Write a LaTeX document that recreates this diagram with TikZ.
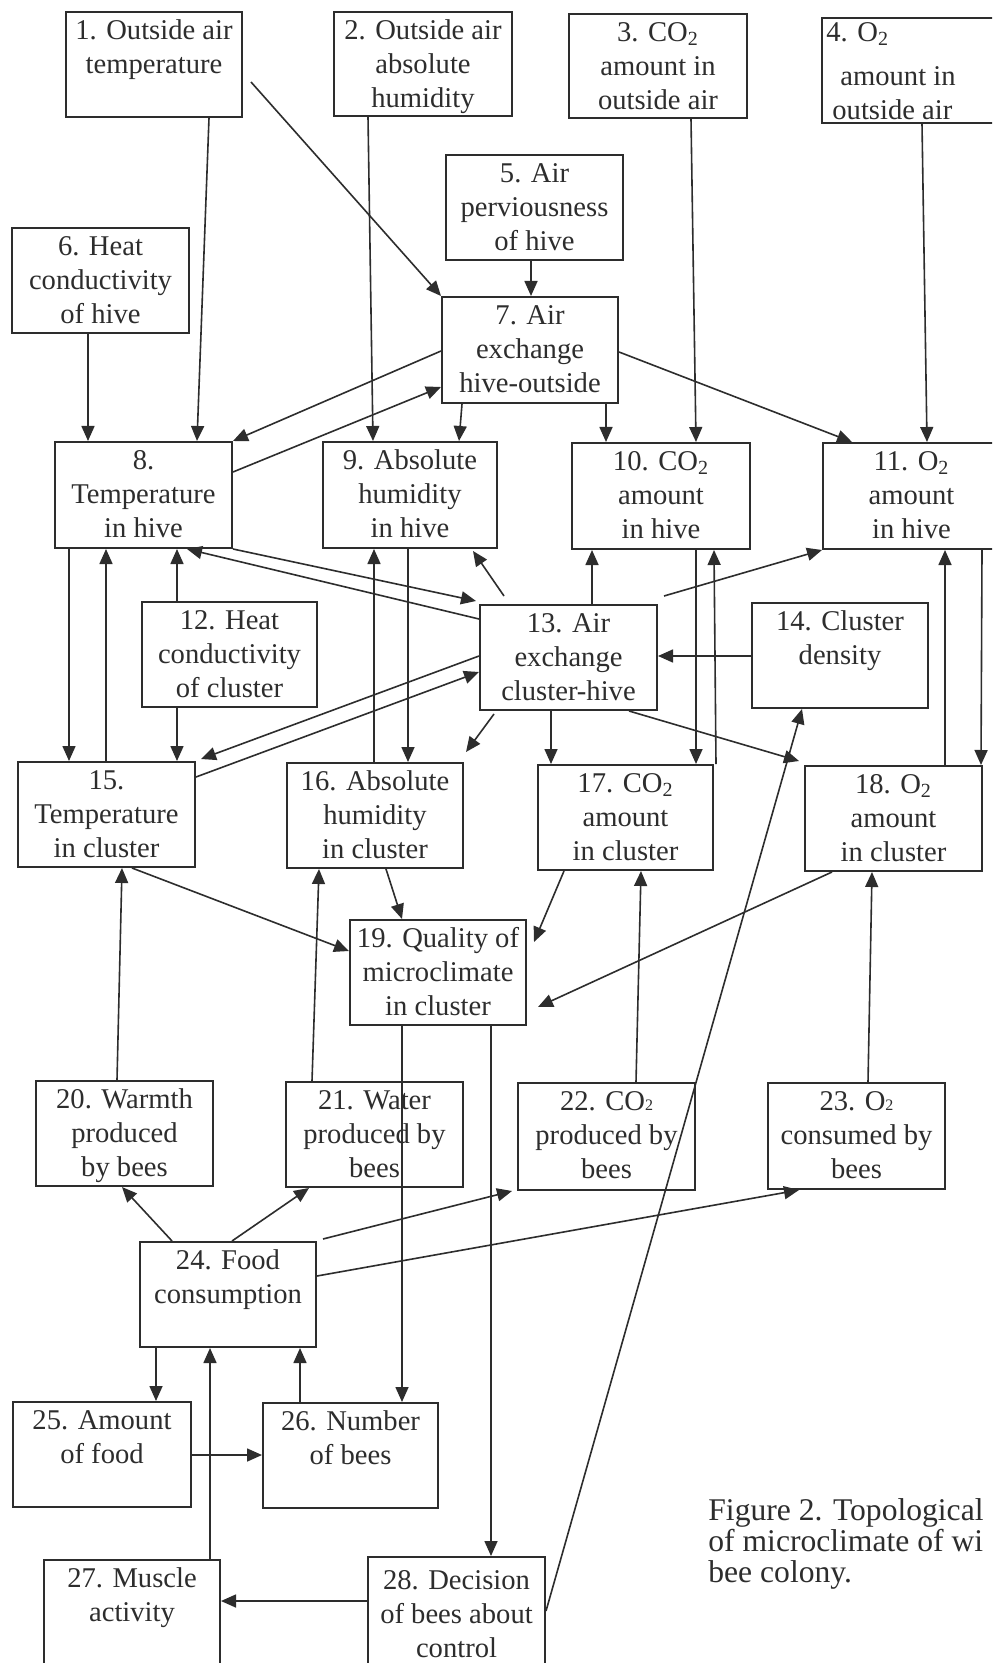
\documentclass[tikz,border=0pt]{standalone}
\usepackage{fontspec}
\setmainfont{Liberation Serif}
\usetikzlibrary{calc,arrows.meta}
\definecolor{ink}{RGB}{45,45,45}
% box: name, x1, y1, x2, y2, text offset, text
\newcommand\bbox[7]{%
  \node[box, minimum width={0.5pt*(#4-#2)}, minimum height={0.5pt*(#5-#3)}] (#1) at ({(#2+#4)/2},{(#3+#5)/2}) {};
  \node[lbl] (#1t) at ({(#2+#4)/2},{#3+#6}) {\strut #7};
}
\begin{document}
\begin{tikzpicture}[x=0.5pt,y=-0.5pt,
  box/.style={draw=ink, line width=1pt, inner sep=0pt, rectangle},
  lbl/.style={text=ink, inner sep=0pt, align=center, anchor=north, font=\fontsize{14.3}{17}\selectfont},
  arr/.style={draw=ink, line width=0.8pt, -{Triangle[length=7.5pt,width=6.5pt]}},
  captext/.style={text=ink, inner sep=0pt, anchor=base west, font=\fontsize{15.8}{16}\selectfont}]
\fill[white] (0,0) rectangle (992,1663);
\useasboundingbox (0,0) rectangle (992,1663);
\clip (0,0) rectangle (992,1663);

% boxes
\bbox{b1}{66}{12}{242}{117}{3}{1. Outside air\\temperature}
\bbox{b2}{334}{12}{512}{116}{3}{2. Outside air\\absolute\\humidity}
\bbox{b3}{569}{14}{747}{118}{3}{3. CO\textsubscript{2}\\amount in\\outside air}
\node[box, minimum width=89pt, minimum height=52.5pt] (b4) at (911,70.5) {};
\node[lbl, align=left, anchor=north west] (b4t) at (826,17) {\strut 4. O\textsubscript{2}\\[5pt]\hspace*{7pt}amount in\\\hspace*{3pt}outside air};
\bbox{b5}{446}{155}{623}{260}{3}{5. Air\\perviousness\\of hive}
\bbox{b6}{12}{228}{189}{333}{3}{6. Heat\\conductivity\\of hive}
\bbox{b7}{442}{297}{618}{403}{3}{7. Air\\exchange\\hive-outside}
\bbox{b8}{55}{442}{232}{548}{3}{8.\\Temperature\\in hive}
\bbox{b9}{323}{442}{497}{548}{3}{9. Absolute\\humidity\\in hive}
\bbox{b10}{572}{443}{750}{549}{3}{10. CO\textsubscript{2}\\amount\\in hive}
\bbox{b11}{823}{443}{1000}{549}{3}{11. O\textsubscript{2}\\amount\\in hive}
\bbox{b12}{142}{602}{317}{707}{3}{12. Heat\\conductivity\\of cluster}
\bbox{b13}{480}{605}{657}{710}{3}{13. Air\\exchange\\cluster-hive}
\bbox{b14}{752}{603}{928}{708}{3}{14. Cluster\\density}
\bbox{b15}{18}{762}{195}{867}{3}{15.\\Temperature\\in cluster}
\bbox{b16}{287}{763}{463}{868}{3}{16. Absolute\\humidity\\in cluster}
\bbox{b17}{538}{765}{713}{870}{3}{17. CO\textsubscript{2}\\amount\\in cluster}
\bbox{b18}{805}{766}{982}{871}{3}{18. O\textsubscript{2}\\amount\\in cluster}
\bbox{b19}{350}{920}{526}{1025}{3}{19. Quality of\\microclimate\\in cluster}
\bbox{b20}{36}{1081}{213}{1186}{3}{20. Warmth\\produced\\by bees}
\bbox{b21}{286}{1082}{463}{1187}{3}{21. Water\\produced by\\bees}
\bbox{b22}{518}{1083}{695}{1190}{3}{22. CO{\footnotesize 2}\\produced by\\bees}
\bbox{b23}{768}{1083}{945}{1189}{3}{23. O{\footnotesize 2}\\consumed by\\bees}
\bbox{b24}{140}{1242}{316}{1347}{3}{24. Food\\consumption}
\bbox{b25}{13}{1402}{191}{1507}{3}{25. Amount\\of food}
\bbox{b26}{263}{1403}{438}{1508}{3}{26. Number\\of bees}
\bbox{b27}{44}{1560}{220}{1665}{3}{27. Muscle\\activity}
\bbox{b28}{368}{1557}{545}{1668}{8}{28. Decision\\of bees about\\control}

% caption
\node[captext] (cap1) at (708,1520) {Figure 2. Topological};
\node[captext] (cap2) at (708,1551) {of microclimate of wi};
\node[captext] (cap3) at (708,1582) {bee colony.};

% outside factors -> hive
\draw[arr] ($(b1.south west)+(144,0)$) -- ($(b8.north west)+(143,0)$);
\draw[arr] ($(b1.north east)+(8,71)$) -- (b7.north west);
\draw[arr] ($(b2.south west)+(35,0)$) -- ($(b9.north west)+(51,0)$);
\draw[arr] ($(b5.south west)+(86,0)$) -- ($(b7.north west)+(90,0)$);
\draw[arr] ($(b3.south west)+(123,0)$) -- ($(b10.north west)+(125,0)$);
\draw[arr] ($(b4.south west)+(101,0)$) -- ($(b11.north west)+(105,0)$);
\draw[arr] ($(b6.south west)+(77,0)$) -- ($(b8.north west)+(34,0)$);
\draw[arr] ($(b7.north west)+(0,55)$) -- (b8.north east);
\draw[arr] ($(b8.north east)+(0,31)$) -- ($(b7.north west)+(0,91)$);
\draw[arr] ($(b7.south west)+(21,0)$) -- ($(b9.north west)+(137,0)$);
\draw[arr] ($(b7.south west)+(165,0)$) -- ($(b10.north west)+(35,0)$);
\draw[arr] ($(b7.north east)+(0,56)$) -- ($(b11.north west)+(30,0)$);

% hive <-> cluster
\draw[arr] ($(b8.south west)+(15,0)$) -- ($(b15.north west)+(52,0)$);
\draw[arr] ($(b15.north west)+(89,0)$) -- ($(b8.south west)+(52,0)$);
\draw[arr] ($(b12.north west)+(36,0)$) -- ($(b8.south west)+(123,0)$);
\draw[arr] ($(b12.south west)+(36,0)$) -- ($(b15.north west)+(160,0)$);
\draw[arr] ($(b13.north west)+(0,15)$) -- ($(b8.south west)+(133,0)$);
\draw[arr] (b8.south east) -- ($(b13.north west)+(-3,-3)$);
\draw[arr] ($(b13.north west)+(0,52)$) -- ($(b15.north east)+(5,-2)$);
\draw[arr] ($(b15.north east)+(0,16)$) -- ($(b13.north west)+(0,68)$);
\draw[arr] ($(b16.north west)+(88,0)$) -- ($(b9.south west)+(52,0)$);
\draw[arr] ($(b9.south west)+(86,0)$) -- ($(b16.north west)+(122,0)$);
\draw[arr] ($(b13.north west)+(25,-8)$) -- ($(b9.south east)+(-25,2)$);
\draw[arr] ($(b13.south west)+(15,3)$) -- ($(b16.north east)+(2,-10)$);
\draw[arr] ($(b13.north west)+(113,0)$) -- ($(b10.south west)+(21,0)$);
\draw[arr] ($(b10.south west)+(125,0)$) -- ($(b17.north west)+(159,0)$);
\draw[arr] ($(b17.north east)+(2,0)$) -- ($(b10.south west)+(143,0)$);
\draw[arr] ($(b13.north east)+(6,-8)$) -- (b11.south west);
\draw[arr] ($(b14.north west)+(0,54)$) -- ($(b13.north east)+(0,52)$);
\draw[arr] ($(b13.south west)+(72,0)$) -- ($(b17.north west)+(14,0)$);
\draw[arr] ($(b13.south west)+(150,0)$) -- ($(b18.north west)+(-5,-4)$);
\draw[arr] ($(b11.south west)+(160,0)$) -- ($(b18.north west)+(177,0)$);
\draw[arr] ($(b18.north west)+(141,0)$) -- ($(b11.south west)+(123,0)$);

% bees -> cluster, cluster -> quality
\draw[arr] ($(b20.north west)+(82,0)$) -- ($(b15.south west)+(105,0)$);
\draw[arr] ($(b21.north west)+(27,0)$) -- ($(b16.south west)+(33,0)$);
\draw[arr] ($(b15.south west)+(115,0)$) -- ($(b19.north west)+(0,32)$);
\draw[arr] ($(b16.south west)+(100,0)$) -- ($(b19.north west)+(53,0)$);
\draw[arr] ($(b17.south west)+(27,0)$) -- ($(b19.north east)+(7,23)$);
\draw[arr] ($(b18.south west)+(28,0)$) -- ($(b19.north east)+(11,88)$);
\draw[arr] ($(b22.north west)+(119,0)$) -- ($(b17.south west)+(104,0)$);
\draw[arr] ($(b23.north west)+(101,0)$) -- ($(b18.south west)+(68,0)$);
\draw[arr] ($(b19.south west)+(53,0)$) -- ($(b26.north west)+(140,0)$);
\draw[arr] ($(b19.south west)+(142,0)$) -- ($(b28.north west)+(124,0)$);

% food consumption and control
\draw[arr] ($(b24.north west)+(33,0)$) -- ($(b20.south west)+(87,0)$);
\draw[arr] ($(b24.north west)+(93,0)$) -- ($(b21.south west)+(24,0)$);
\draw[arr] ($(b24.north east)+(6,-2)$) -- ($(b22.south west)+(-5,0)$);
\draw[arr] ($(b24.north east)+(0,35)$) -- ($(b23.south west)+(32,0)$);
\draw[arr] ($(b24.south west)+(17,0)$) -- ($(b25.north west)+(144,0)$);
\draw[arr] ($(b27.north west)+(167,0)$) -- ($(b24.south west)+(71,0)$);
\draw[arr] ($(b26.north west)+(38,0)$) -- ($(b24.south west)+(161,0)$);
\draw[arr] ($(b25.north east)+(0,54)$) -- ($(b26.north west)+(0,53)$);
\draw[arr] ($(b28.north west)+(0,45)$) -- ($(b27.north east)+(0,42)$);
\draw[arr] ($(b28.north east)+(0,55)$) -- ($(b14.south west)+(51,0)$);
\end{tikzpicture}
\end{document}
